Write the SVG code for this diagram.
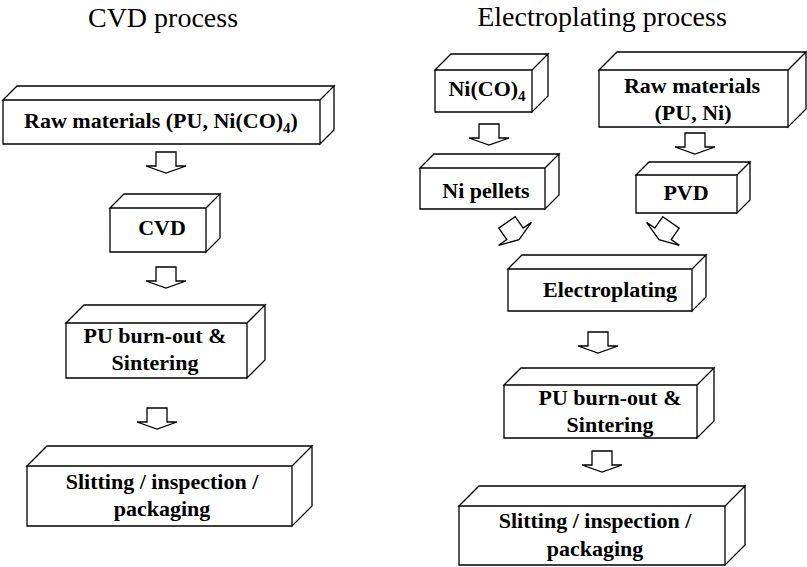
<svg xmlns="http://www.w3.org/2000/svg" xmlns:xlink="http://www.w3.org/1999/xlink" width="807" height="567" viewBox="0 0 807 567">
<style>
.bx{fill:#fff;stroke:#000;stroke-width:1.3;stroke-linejoin:miter}
.t{font-family:"Liberation Serif","Times New Roman",serif;font-weight:bold;font-size:22px;fill:#000;text-anchor:middle}
.ttl{font-family:"Liberation Serif","Times New Roman",serif;font-size:28px;fill:#000;text-anchor:middle}
.sub{font-size:15px}
.ar{fill:#fff;stroke:#000;stroke-width:1.3;stroke-linejoin:miter}
</style>
<defs>
<path id="arr" class="ar" d="M-10,0 H10 V14 H20 L0,21 L-20,14 H-10 Z"/>
<path id="arrc" class="ar" d="M-10,-10.5 H10 V3.5 H20 L0,10.5 L-20,3.5 H-10 Z"/>
</defs>
<rect width="807" height="567" fill="#fff"/>
<text class="ttl" x="163" y="27">CVD process</text>
<text class="ttl" x="602" y="26">Electroplating process</text>

<g id="connectors">
<use xlink:href="#arr" transform="translate(166,152)"/>
<use xlink:href="#arr" transform="translate(166,267)"/>
<use xlink:href="#arr" transform="translate(157,408)"/>
<use xlink:href="#arr" transform="translate(489,124)"/>
<use xlink:href="#arr" transform="translate(695,133)"/>
<use xlink:href="#arrc" transform="translate(513,231) rotate(-35)"/>
<use xlink:href="#arrc" transform="translate(665,231) rotate(35)"/>
<use xlink:href="#arr" transform="translate(598,332)"/>
<use xlink:href="#arr" transform="translate(602,451)"/>
</g>

<g id="cvd-raw">
<path class="bx" d="M3,100 H320 V144 H3 Z M3,100 L17,86 H334 L320,100 Z M320,100 L334,86 V130 L320,144 Z"/>
<text class="t" x="161" y="128">Raw materials (PU, Ni(CO)<tspan class="sub" dy="5">4</tspan><tspan dy="-5">)</tspan></text>
</g>
<g id="cvd-cvd">
<path class="bx" d="M110,208 H206 V252 H110 Z M110,208 L124,194 H220 L206,208 Z M206,208 L220,194 V238 L206,252 Z"/>
<text class="t" x="162" y="235">CVD</text>
</g>
<g id="cvd-burnout">
<path class="bx" d="M66,323 H247 V378 H66 Z M66,323 L84,305 H265 L247,323 Z M247,323 L265,305 V360 L247,378 Z"/>
<text class="t" x="155" y="343">PU burn-out &amp;</text>
<text class="t" x="155" y="370">Sintering</text>
</g>
<g id="cvd-slitting">
<path class="bx" d="M27,466 H292 V526 H27 Z M27,466 L47,446 H312 L292,466 Z M292,466 L312,446 V506 L292,526 Z"/>
<text class="t" x="162" y="489">Slitting / inspection /</text>
<text class="t" x="162" y="516">packaging</text>
</g>

<g id="ep-nico4">
<path class="bx" d="M435,70 H532 V112 H435 Z M435,70 L451,54 H548 L532,70 Z M532,70 L548,54 V96 L532,112 Z"/>
<text class="t" x="487" y="96">Ni(CO)<tspan class="sub" dy="5">4</tspan></text>
</g>
<g id="ep-raw">
<path class="bx" d="M599,70 H788 V127 H599 Z M599,70 L617,52 H806 L788,70 Z M788,70 L806,52 V109 L788,127 Z"/>
<text class="t" x="692" y="93">Raw materials</text>
<text class="t" x="693" y="120">(PU, Ni)</text>
</g>
<g id="ep-pellets">
<path class="bx" d="M420,168 H545 V209 H420 Z M420,168 L434,154 H559 L545,168 Z M545,168 L559,154 V195 L545,209 Z"/>
<text class="t" x="486" y="198">Ni pellets</text>
</g>
<g id="ep-pvd">
<path class="bx" d="M636,175 H737 V213 H636 Z M636,175 L649,162 H750 L737,175 Z M737,175 L750,162 V200 L737,213 Z"/>
<text class="t" x="686" y="200">PVD</text>
</g>
<g id="ep-electroplating">
<path class="bx" d="M508,269 H692 V311 H508 Z M508,269 L522,255 H706 L692,269 Z M692,269 L706,255 V297 L692,311 Z"/>
<text class="t" x="610" y="297">Electroplating</text>
</g>
<g id="ep-burnout">
<path class="bx" d="M504,385 H697 V438 H504 Z M504,385 L521,368 H714 L697,385 Z M697,385 L714,368 V421 L697,438 Z"/>
<text class="t" x="610" y="405">PU burn-out &amp;</text>
<text class="t" x="610" y="432">Sintering</text>
</g>
<g id="ep-slitting">
<path class="bx" d="M459,506 H725 V565 H459 Z M459,506 L479,486 H745 L725,506 Z M725,506 L745,486 V545 L725,565 Z"/>
<text class="t" x="595" y="528">Slitting / inspection /</text>
<text class="t" x="595" y="556">packaging</text>
</g>
</svg>
